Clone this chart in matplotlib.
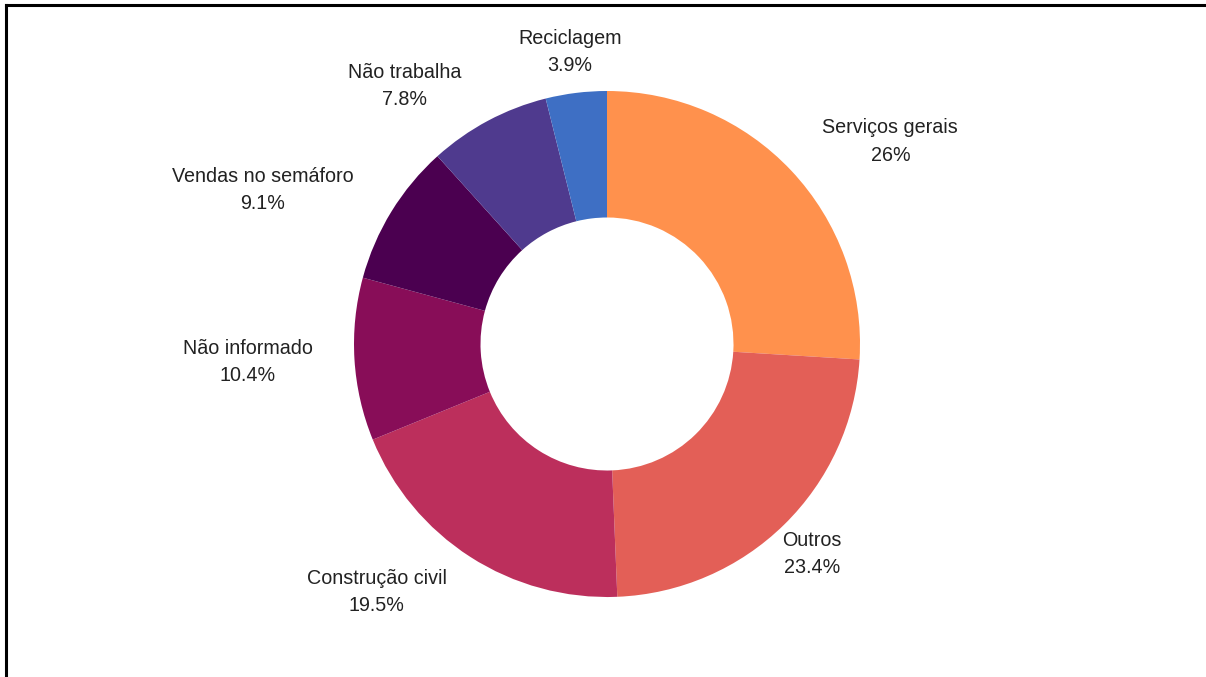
import matplotlib.pyplot as plt
from matplotlib.lines import Line2D

plt.rcParams['font.family'] = ['Liberation Sans', 'DejaVu Sans']

# dados
categorias = ["Serviços gerais", "Outros", "Construção civil", "Não informado",
              "Vendas no semáforo", "Não trabalha", "Reciclagem"]
percentuais = [26, 23.4, 19.5, 10.4, 9.1, 7.8, 3.9]
rotulos_pct = ["26%", "23.4%", "19.5%", "10.4%", "9.1%", "7.8%", "3.9%"]

cores = ["#FF914D", "#E35F57", "#BC2F5C", "#880D58", "#4B0050", "#4F3A8E", "#3E6FC4"]

# posicao dos rotulos (em raios, relativo ao centro)
pos_rotulos = [(1.12, 0.80), (0.81, -0.83), (-0.91, -0.98), (-1.42, -0.07),
               (-1.36, 0.61), (-0.80, 1.02), (-0.146, 1.154)]

fig = plt.figure(figsize=(12.06, 6.77), dpi=100)
ax = fig.add_axes([0, 0, 1, 1])

ax.pie(percentuais, colors=cores, startangle=90, counterclock=False,
       radius=1.0, wedgeprops=dict(width=0.5, linewidth=0))

for cat, pct, (x, y) in zip(categorias, rotulos_pct, pos_rotulos):
    ax.text(x, y, cat + "\n" + pct, ha="center", va="center",
            fontsize=14.2, color="#222222", linespacing=1.55)

ax.set_aspect("equal")
ax.set_xlim(-607 / 253, (1206 - 607) / 253)
ax.set_ylim(-(677 - 344) / 253, 344 / 253)
ax.axis("off")

# moldura (parte superior e esquerda)
fig.add_artist(Line2D([6 / 1206, 6 / 1206], [0, 1 - 5 / 677], color="black", lw=2.2,
                      transform=fig.transFigure))
fig.add_artist(Line2D([6 / 1206, 1], [1 - 5 / 677, 1 - 5 / 677], color="black", lw=2.2,
                      transform=fig.transFigure))

fig.savefig("out.png", dpi=100)
